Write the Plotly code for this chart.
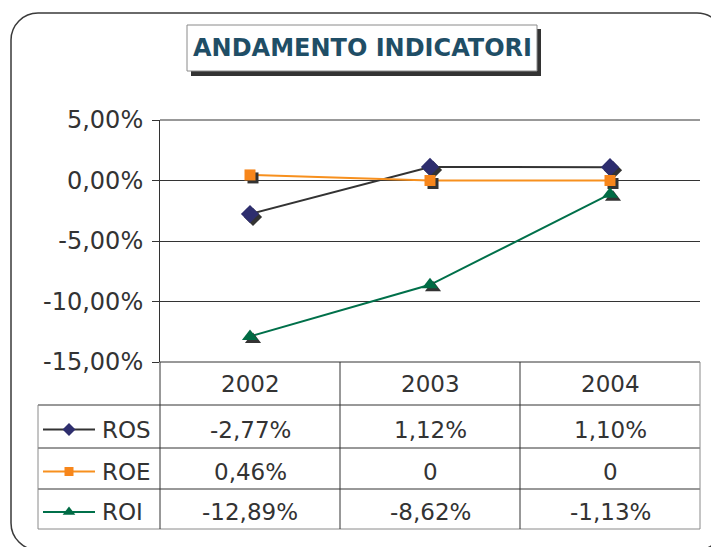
import plotly.graph_objects as go

# ---------------- data ----------------
years = ["2002", "2003", "2004"]
series_names = ["ROS", "ROE", "ROI"]
ros = [-2.77, 1.12, 1.10]
roe = [0.46, 0, 0]
roi = [-12.89, -8.62, -1.13]
y_tickvals = [5, 0, -5, -10, -15]
y_ticktext = ["5,00%", "0,00%", "-5,00%", "-10,00%", "-15,00%"]
title_text = "ANDAMENTO INDICATORI"

# ---------------- styling / layout constants ----------------
W, H = 711, 547
PX0, PX1 = 160, 700          # plot area left/right (px)
PY0, PY1 = 120, 362          # plot area top/bottom (px)
YMIN, YMAX = -15, 5
FONT = "DejaVu Sans"
TXT = "#333333"
LINE = "#333333"

styles = {
    "ROS": dict(line="#333333", marker="#2e2e6e", symbol="diamond", size=14, lsize=10),
    "ROE": dict(line="#f7901e", marker="#f7861b", symbol="square", size=11, lsize=9),
    "ROI": dict(line="#00704a", marker="#006b44", symbol="triangle-up", size=14, lsize=11),
}
values = {"ROS": ros, "ROE": roe, "ROI": roi}

def fmt(v):
    if v == 0:
        return "0"
    return f"{v:.2f}%".replace(".", ",")

fig = go.Figure()
xs = list(range(len(years)))
px_per_cat = (PX1 - PX0) / len(years)
px_per_pct = (PY1 - PY0) / (YMAX - YMIN)
sdx, sdy = 3 / px_per_cat, 3 / px_per_pct

# lines
for n in series_names:
    st = styles[n]
    fig.add_trace(go.Scatter(x=xs, y=values[n], mode="lines",
                             line=dict(color=st["line"], width=2), hoverinfo="skip"))
# marker shadows
for n in series_names:
    st = styles[n]
    fig.add_trace(go.Scatter(x=[x + sdx for x in xs], y=[v - sdy for v in values[n]],
                             mode="markers", hoverinfo="skip",
                             marker=dict(symbol=st["symbol"], size=st["size"], color="#333333",
                                         line=dict(width=0))))
# markers
for n in series_names:
    st = styles[n]
    fig.add_trace(go.Scatter(x=xs, y=values[n], mode="markers", name=n,
                             marker=dict(symbol=st["symbol"], size=st["size"], color=st["marker"],
                                         line=dict(width=0))))

# ---------------- table geometry (px) ----------------
col_edges = [PX0 + i * px_per_cat for i in range(len(years) + 1)]
row_edges = [362, 405, 448, 489, 529]
TL = 38  # table left (legend column)

shapes = []
def hline(x0, x1, y, color=LINE, w=1):
    shapes.append(dict(type="line", xref="x2", yref="y2", x0=x0, x1=x1, y0=y, y1=y,
                       line=dict(color=color, width=w)))
def vline(x, y0, y1, color=LINE, w=1):
    shapes.append(dict(type="line", xref="x2", yref="y2", x0=x, x1=x, y0=y0, y1=y1,
                       line=dict(color=color, width=w)))

# outer rounded border
x0, y0, x1, y1, r = 11, 13, 724, 550, 27
k = r * 0.5523
path = (f"M {x0+r},{y0} L {x1-r},{y0} C {x1-r+k},{y0} {x1},{y0+r-k} {x1},{y0+r} "
        f"L {x1},{y1-r} C {x1},{y1-r+k} {x1-r+k},{y1} {x1-r},{y1} "
        f"L {x0+r},{y1} C {x0+r-k},{y1} {x0},{y1-r+k} {x0},{y1-r} "
        f"L {x0},{y0+r} C {x0},{y0+r-k} {x0+r-k},{y0} {x0+r},{y0} Z")
shapes.append(dict(type="path", xref="x2", yref="y2", path=path,
                   line=dict(color="#3a3a3a", width=1.5)))

# title box with shadow
shapes.append(dict(type="rect", xref="x2", yref="y2", x0=191, x1=541, y0=29, y1=76,
                   fillcolor="#333333", line=dict(width=0)))
shapes.append(dict(type="rect", xref="x2", yref="y2", x0=187, x1=537, y0=25, y1=71,
                   fillcolor="white", line=dict(color="#8a8a8a", width=1)))

# plot top / bottom lines
hline(PX0, PX1, PY0)
hline(PX0, PX1, PY1)
# table lines
for ry in row_edges[1:-1]:
    hline(TL, PX1, ry)
hline(TL, PX1, row_edges[-1], color="#8a8a8a")
vline(TL, row_edges[1], row_edges[-1], color="#8a8a8a")
vline(PX0, PY1, row_edges[-1])
for cx in col_edges[1:-1]:
    vline(cx, row_edges[0], row_edges[-1])
vline(PX1, row_edges[0], row_edges[-1], color="#8a8a8a")

annotations = []
def text(x, y, s, size=23, color=TXT, bold=False, xanchor="center"):
    annotations.append(dict(xref="x2", yref="y2", x=x, y=y, text=(f"<b>{s}</b>" if bold else s),
                            showarrow=False, xanchor=xanchor, yanchor="middle",
                            font=dict(family=FONT, size=size, color=color)))

text(362, 48, title_text, size=24, color="#1f4e66", bold=True)

# header row
for i, yr in enumerate(years):
    text((col_edges[i] + col_edges[i + 1]) / 2, (row_edges[0] + row_edges[1]) / 2, yr)
# data rows
for j, n in enumerate(series_names):
    yc = (row_edges[j + 1] + row_edges[j + 2]) / 2 + 3
    for i, v in enumerate(values[n]):
        text((col_edges[i] + col_edges[i + 1]) / 2, yc, fmt(v))
    text(100, yc, n, xanchor="left")
    st = styles[n]
    fig.add_trace(go.Scatter(x=[43, 95], y=[yc, yc], mode="lines", xaxis="x2", yaxis="y2",
                             line=dict(color=st["line"], width=2), hoverinfo="skip"))
    fig.add_trace(go.Scatter(x=[69], y=[yc], mode="markers", xaxis="x2", yaxis="y2",
                             hoverinfo="skip",
                             marker=dict(symbol=st["symbol"], size=st["lsize"], color=st["marker"],
                                         line=dict(width=0))))

fig.update_layout(
    template="none",
    width=W, height=H, margin=dict(l=0, r=0, t=0, b=0, pad=0, autoexpand=False),
    paper_bgcolor="white", plot_bgcolor="rgba(0,0,0,0)", showlegend=False,
    xaxis=dict(domain=[PX0 / W, PX1 / W], range=[-0.5, len(years) - 0.5], visible=False,
               automargin=False),
    yaxis=dict(domain=[1 - PY1 / H, 1 - PY0 / H], range=[YMIN, YMAX], automargin=False,
               tickvals=y_tickvals, ticktext=y_ticktext, showgrid=True, gridcolor=LINE,
               gridwidth=1, zeroline=False, ticks="outside", ticklen=7, tickcolor=LINE,
               showline=True, linecolor=LINE, linewidth=1, ticklabelstandoff=4,
               tickfont=dict(family=FONT, size=24, color=TXT)),
    xaxis2=dict(domain=[0, 1], range=[0, W], anchor="y2", visible=False, automargin=False),
    yaxis2=dict(domain=[0, 1], range=[H, 0], anchor="x2", visible=False, automargin=False),
    shapes=shapes, annotations=annotations,
)

fig.write_html("out.html", config={"displayModeBar": False},
               post_script="document.body.style.margin='0';document.body.style.padding='0';")
